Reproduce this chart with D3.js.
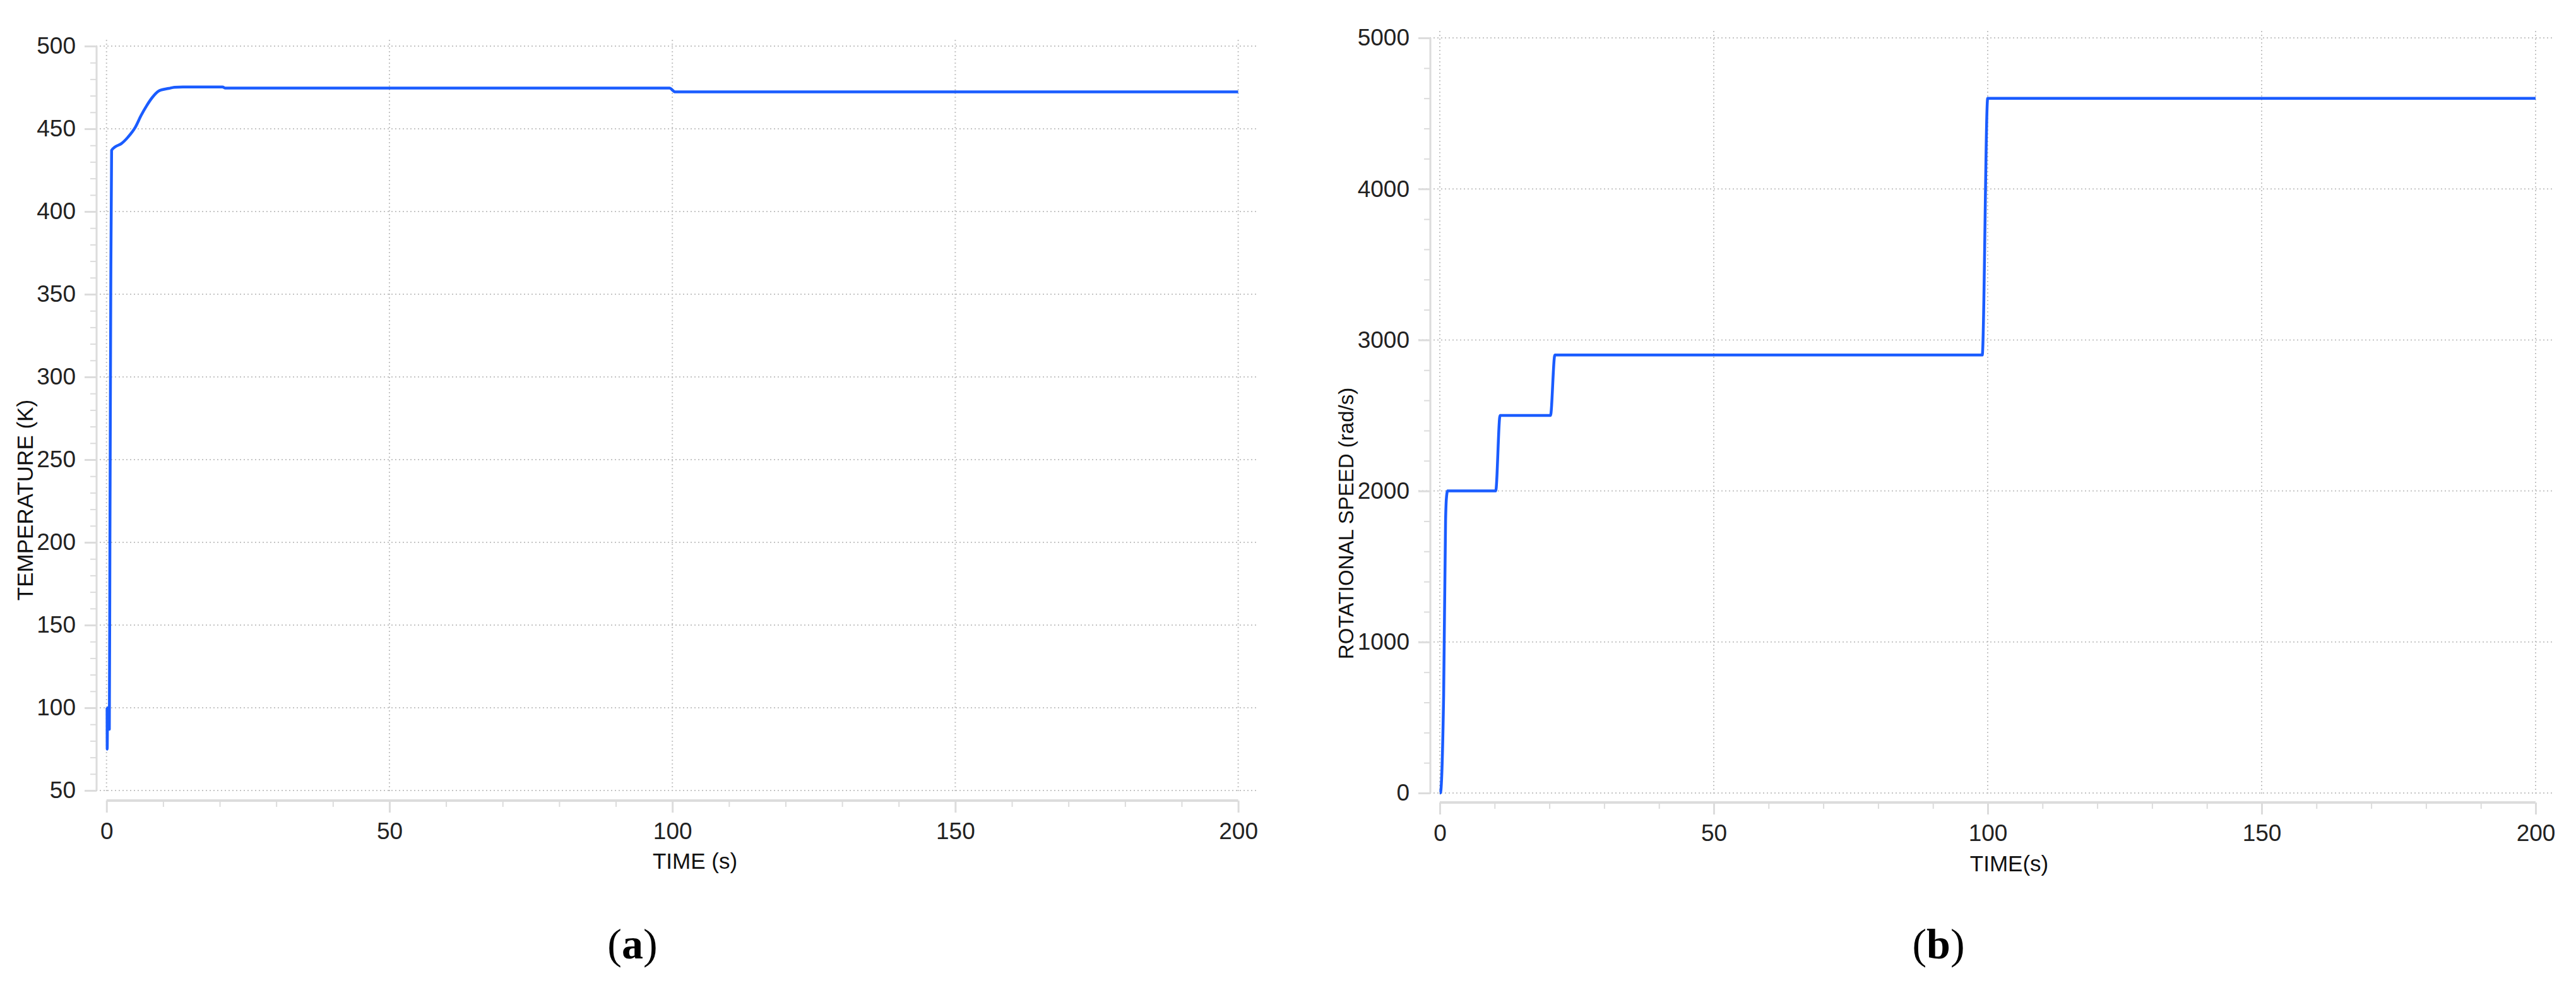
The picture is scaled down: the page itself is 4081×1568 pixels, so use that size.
<!DOCTYPE html>
<html>
<head>
<meta charset="utf-8">
<script src="https://cdn.jsdelivr.net/npm/d3@7"></script>
<style>
  html, body { margin: 0; padding: 0; background: #fff; }
  svg { display: block; }
</style>
</head>
<body>
<svg id="chart" width="4081" height="1568"></svg>
<script>
// ---------------- DATA ----------------
const timeTicks = [0, 50, 100, 150, 200];
const tempTicks = [50, 100, 150, 200, 250, 300, 350, 400, 450, 500];
const speedTicks = [0, 1000, 2000, 3000, 4000, 5000];

// (a) temperature vs time
const tempTime  = [0.10, 0.12, 0.20, 0.45, 0.50, 0.60, 0.75, 0.90, 1.5, 2.6, 3.8, 5.1, 6.1, 7.1, 8.1, 9.3, 9.6, 11.0, 12.0, 13.5, 20.5, 21.0, 99.5, 100.5, 200];
const tempValue = [100,  75,   100,  100,  87,   200,  350,  437,  439, 441, 445, 451, 458, 464, 469, 473, 473.4, 474.4, 475.1, 475.3, 475.3, 474.6, 474.6, 472.3, 472.3];

// (b) rotational speed vs time
const speedTime  = [0, 0.1, 0.7, 1.05, 1.2, 1.42, 10.2, 11.0, 20.2, 21.0, 99.0, 100.0, 200];
const speedValue = [0, 0,   650, 1800, 1950, 2000, 2000, 2500, 2500, 2900, 2900, 4600, 4600];

// ---------------- DRAW ----------------
const svg = d3.select("#chart");
const lineColor = "#1a5cff";
const gridColor = "#c4c4c4";
const axisColor = "#dcdcdc";
const sans = "'Liberation Sans', Arial, sans-serif";
const serif = "'Liberation Serif', 'Times New Roman', serif";

function panel(cfg) {
  const g = svg.append("g");
  const x = d3.scaleLinear().domain([0, 200]).range(cfg.xRange);
  const y = d3.scaleLinear().domain(cfg.yDomain).range(cfg.yRange);

  // horizontal dotted gridlines
  g.append("g").selectAll("line").data(cfg.yTicks).join("line")
    .attr("x1", cfg.axisX - 19).attr("x2", cfg.gridRight)
    .attr("y1", d => y(d)).attr("y2", d => y(d))
    .attr("stroke", gridColor).attr("stroke-width", 2)
    .attr("stroke-dasharray", "2,4");

  // vertical dotted gridlines
  g.append("g").selectAll("line").data(timeTicks).join("line")
    .attr("x1", d => x(d)).attr("x2", d => x(d))
    .attr("y1", cfg.gridTop).attr("y2", cfg.yRange[0] + 2)
    .attr("stroke", gridColor).attr("stroke-width", 2)
    .attr("stroke-dasharray", "2,4");

  // y axis minor ticks
  const yMinor = d3.range(cfg.yDomain[0], cfg.yDomain[1] + 1e-9, cfg.yMinorStep)
    .filter(v => !cfg.yTicks.includes(v));
  const yMinorAxis = d3.axisLeft(y).tickValues(yMinor).tickSize(10).tickFormat("");
  const gyMin = g.append("g").attr("transform", `translate(${cfg.axisX},0)`).call(yMinorAxis);
  gyMin.select(".domain").remove();
  gyMin.selectAll("line").attr("stroke", axisColor).attr("stroke-width", 2);

  // y axis major
  const yAxis = d3.axisLeft(y).tickValues(cfg.yTicks).tickSize(19).tickPadding(14)
    .tickFormat(d3.format("d"));
  const gy = g.append("g").attr("transform", `translate(${cfg.axisX},0)`).call(yAxis);
  gy.select(".domain").remove();
  gy.selectAll("line").attr("stroke", axisColor).attr("stroke-width", 3);
  gy.selectAll("text").style("font-family", sans).style("font-size", "37px").attr("fill", "#222");
  g.append("line")
    .attr("x1", cfg.axisX).attr("x2", cfg.axisX)
    .attr("y1", cfg.yRange[1]).attr("y2", cfg.yRange[0])
    .attr("stroke", axisColor).attr("stroke-width", 3);

  // x axis minor
  const xMinor = d3.range(0, 201, 10).filter(v => !timeTicks.includes(v));
  const xMinorAxis = d3.axisBottom(x).tickValues(xMinor).tickSize(10).tickFormat("");
  const gxMin = g.append("g").attr("transform", `translate(0,${cfg.axisY})`).call(xMinorAxis);
  gxMin.select(".domain").remove();
  gxMin.selectAll("line").attr("stroke", axisColor).attr("stroke-width", 2);

  // x axis major
  const xAxis = d3.axisBottom(x).tickValues(timeTicks).tickSize(19).tickPadding(16)
    .tickFormat(d3.format("d"));
  const gx = g.append("g").attr("transform", `translate(0,${cfg.axisY})`).call(xAxis);
  gx.select(".domain").remove();
  gx.selectAll("line").attr("stroke", axisColor).attr("stroke-width", 3);
  gx.selectAll("text").style("font-family", sans).style("font-size", "37px").attr("fill", "#222");
  g.append("line")
    .attr("x1", x(0)).attr("x2", x(200))
    .attr("y1", cfg.axisY).attr("y2", cfg.axisY)
    .attr("stroke", axisColor).attr("stroke-width", 4);

  // data line
  const pts = cfg.xs.map((t, i) => [t, cfg.ys[i]]);
  const line = d3.line().x(d => x(d[0])).y(d => y(d[1])).curve(d3.curveMonotoneX);
  g.append("path").datum(pts)
    .attr("d", line)
    .attr("fill", "none")
    .attr("stroke", lineColor)
    .attr("stroke-width", 4.5)
    .attr("stroke-linejoin", "round");

  // axis titles
  g.append("text")
    .attr("x", cfg.xTitlePos[0]).attr("y", cfg.xTitlePos[1])
    .attr("text-anchor", "middle").attr("dominant-baseline", "central")
    .style("font-family", sans).style("font-size", "35px").attr("fill", "#111")
    .text(cfg.xTitle);
  g.append("text")
    .attr("transform", `translate(${cfg.yTitlePos[0]},${cfg.yTitlePos[1]}) rotate(-90)`)
    .attr("text-anchor", "middle").attr("dominant-baseline", "central")
    .style("font-family", sans).style("font-size", cfg.yTitleSize + "px").attr("fill", "#111")
    .text(cfg.yTitle);

  // panel label
  const lab = g.append("text")
    .attr("x", cfg.labelPos[0]).attr("y", cfg.labelPos[1])
    .attr("text-anchor", "middle")
    .style("font-family", serif)
    .style("font-size", "68px").attr("fill", "#000");
  lab.append("tspan").text("(");
  lab.append("tspan").style("font-weight", "bold").text(cfg.label);
  lab.append("tspan").text(")");
}

panel({
  xRange: [168.75, 1961.6],
  yDomain: [50, 500], yRange: [1252, 73],
  yTicks: tempTicks, yMinorStep: 10,
  axisX: 153, axisY: 1268, gridRight: 1990, gridTop: 63,
  xs: tempTime, ys: tempValue,
  xTitle: "TIME (s)", xTitlePos: [1101, 1363],
  yTitle: "TEMPERATURE (K)", yTitlePos: [39, 792], yTitleSize: 35,
  label: "a", labelPos: [1002, 1518]
});

panel({
  xRange: [2281, 4017],
  yDomain: [0, 5000], yRange: [1256, 60],
  yTicks: speedTicks, yMinorStep: 200,
  axisX: 2266, axisY: 1271, gridRight: 4046, gridTop: 49,
  xs: speedTime, ys: speedValue,
  xTitle: "TIME(s)", xTitlePos: [3183, 1367],
  yTitle: "ROTATIONAL SPEED (rad/s)", yTitlePos: [2132, 829], yTitleSize: 33,
  label: "b", labelPos: [3071, 1518]
});
</script>
</body>
</html>
